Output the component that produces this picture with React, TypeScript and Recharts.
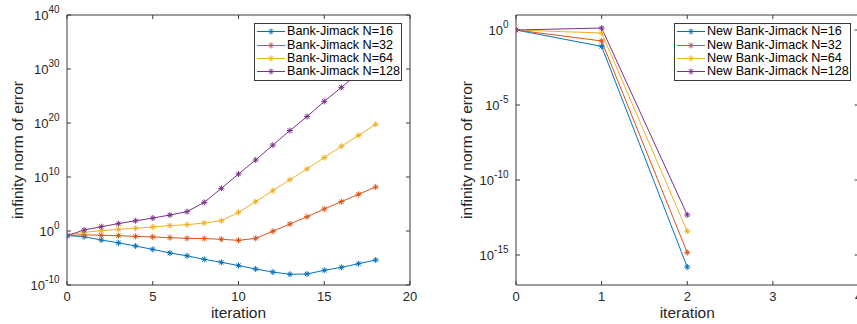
import React from 'react';
import { LineChart, Line, XAxis, YAxis, Legend } from 'recharts';

const COLORS = ['#0072BD', '#D95319', '#EDB120', '#7E2F8E'];
const FONT = '"Liberation Sans", Arial, Helvetica, sans-serif';
const AXIS_COLOR = '#3a3a3a';
const TEXT_COLOR = '#262626';

// Left panel: Bank-Jimack (values are log10 of the error)
const leftIterations = [0, 1, 2, 3, 4, 5, 6, 7, 8, 9, 10, 11, 12, 13, 14, 15, 16, 17, 18];
const leftN16 = [-0.86, -1.05, -1.67, -2.2, -2.78, -3.4, -4.07, -4.6, -5.25, -5.8, -6.4, -7.04, -7.6, -8.02, -7.96, -7.28, -6.73, -6.05, -5.37];
const leftN32 = [-0.86, -0.7, -0.8, -0.86, -1.0, -1.1, -1.23, -1.36, -1.4, -1.54, -1.73, -1.36, -0.06, 1.3, 2.65, 4.07, 5.43, 6.8, 8.15];
const leftN64 = [-0.86, -0.25, 0.06, 0.3, 0.5, 0.74, 1.0, 1.17, 1.48, 1.9, 3.46, 5.43, 7.47, 9.5, 11.5, 13.6, 15.7, 17.7, 19.75];
const leftN128 = [-0.86, 0.19, 0.8, 1.36, 1.9, 2.4, 2.96, 3.58, 5.3, 7.9, 10.55, 13.15, 15.9, 18.6, 21.2, 24.0, 26.6, 29.3, 32.0];
const leftNames = ['Bank-Jimack N=16', 'Bank-Jimack N=32', 'Bank-Jimack N=64', 'Bank-Jimack N=128'];
const leftXTicks = [0, 5, 10, 15, 20];
const leftYTicks = [1e-10, 1, 1e10, 1e20, 1e30, 1e40];

// Right panel: New Bank-Jimack (log10 of the error)
const rightIterations = [0, 1, 2];
const rightN16 = [0, -1.09, -15.8];
const rightN32 = [0, -0.73, -14.84];
const rightN64 = [0, -0.2, -13.42];
const rightN128 = [0, 0.13, -12.33];
const rightNames = ['New Bank-Jimack N=16', 'New Bank-Jimack N=32', 'New Bank-Jimack N=64', 'New Bank-Jimack N=128'];
const rightXTicks = [0, 1, 2, 3, 4];
const rightYTicks = [1e-15, 1e-10, 1e-5, 1];

const KEYS = ['n16', 'n32', 'n64', 'n128'];

const leftData = leftIterations.map((it, i) => ({
  it,
  n16: Math.pow(10, leftN16[i]),
  n32: Math.pow(10, leftN32[i]),
  n64: Math.pow(10, leftN64[i]),
  n128: Math.pow(10, leftN128[i]),
}));

const rightData = rightIterations.map((it, i) => ({
  it,
  n16: Math.pow(10, rightN16[i]),
  n32: Math.pow(10, rightN32[i]),
  n64: Math.pow(10, rightN64[i]),
  n128: Math.pow(10, rightN128[i]),
}));

const Asterisk = ({ cx, cy, color, r = 3 }: any) => {
  const d = r * 0.72;
  return (
    <g stroke={color} strokeWidth={1} fill="none">
      <line x1={cx - r} y1={cy} x2={cx + r} y2={cy} />
      <line x1={cx} y1={cy - r} x2={cx} y2={cy + r} />
      <line x1={cx - d} y1={cy - d} x2={cx + d} y2={cy + d} />
      <line x1={cx - d} y1={cy + d} x2={cx + d} y2={cy - d} />
    </g>
  );
};

const makeDot = (color: string) => (props: any) => {
  const { cx, cy, index } = props;
  if (cx == null || cy == null) return <g key={`d${index}`} />;
  return <Asterisk key={`d${index}`} cx={cx} cy={cy} color={color} />;
};

const PowTick = (props: any) => {
  const { x, y, payload } = props;
  const e = Math.round(Math.log10(payload.value));
  return (
    <text x={x} y={y} dy={5} textAnchor="end" fontFamily={FONT} fontSize={13} fill={TEXT_COLOR}>
      <tspan>10</tspan>
      <tspan dy={-7} fontSize={10}>{e}</tspan>
    </text>
  );
};

const NumTick = (props: any) => {
  const { x, y, payload } = props;
  return (
    <text x={x} y={y} dy="0.71em" textAnchor="middle" fontFamily={FONT} fontSize={13} fill={TEXT_COLOR}>
      {payload.value}
    </text>
  );
};

const EmptyTick = () => <g />;

const LegendBox = ({ names }: { names: string[] }) => (
  <div
    style={{
      background: '#fff',
      border: `1px solid ${AXIS_COLOR}`,
      boxSizing: 'border-box',
      width: '100%',
      height: '100%',
      padding: '1px 0 0 1px',
      fontFamily: FONT,
      fontSize: 12.6,
      color: '#000',
    }}
  >
    {names.map((n, i) => (
      <div key={n} style={{ display: 'flex', alignItems: 'center', height: 13.4, whiteSpace: 'nowrap' }}>
        <svg width={30} height={13} style={{ display: 'block', flex: 'none' }}>
          <line x1={1} y1={6.5} x2={29} y2={6.5} stroke={COLORS[i]} strokeWidth={1} />
          <Asterisk cx={15} cy={6.5} color={COLORS[i]} />
        </svg>
        <span style={{ marginLeft: 1, lineHeight: '13px' }}>{n}</span>
      </div>
    ))}
  </div>
);

const axisLine = { stroke: AXIS_COLOR, strokeWidth: 1 };
const tickLine = { stroke: AXIS_COLOR, strokeWidth: 1 };

function Panel(props: any) {
  const {
    data, names, xDomain, xTicks, yDomain, yTicks, width, margin, yLabelOffset, legendStyle,
  } = props;
  return (
    <LineChart width={width} height={324} data={data} margin={margin}>
      <XAxis
        dataKey="it"
        type="number"
        domain={xDomain}
        ticks={xTicks}
        allowDataOverflow
        height={39}
        axisLine={axisLine}
        tickLine={tickLine}
        tickSize={-4}
        tickMargin={10.7}
        tick={NumTick}
        interval={0}
        label={{
          value: 'iteration',
          position: 'insideBottom',
          offset: 6,
          style: { fontFamily: FONT, fontSize: 15.5, fill: TEXT_COLOR },
        }}
      />
      <XAxis
        xAxisId="top"
        orientation="top"
        dataKey="it"
        type="number"
        domain={xDomain}
        ticks={xTicks}
        allowDataOverflow
        height={1}
        axisLine={axisLine}
        tickLine={tickLine}
        tickSize={-4}
        tick={EmptyTick}
        interval={0}
      />
      <YAxis
        scale="log"
        type="number"
        domain={yDomain}
        ticks={yTicks}
        allowDataOverflow
        width={props.yAxisWidth}
        axisLine={axisLine}
        tickLine={tickLine}
        tickSize={-4}
        tickMargin={11.5}
        tick={PowTick}
        interval={0}
        label={{
          value: 'infinity norm of error',
          angle: -90,
          position: 'insideLeft',
          offset: yLabelOffset,
          style: { fontFamily: FONT, fontSize: 15.5, fill: TEXT_COLOR, textAnchor: 'middle' },
        }}
      />
      <YAxis
        yAxisId="right"
        orientation="right"
        scale="log"
        type="number"
        domain={yDomain}
        ticks={yTicks}
        allowDataOverflow
        width={1}
        axisLine={axisLine}
        tickLine={tickLine}
        tickSize={-4}
        tick={EmptyTick}
        interval={0}
      />
      {KEYS.map((k, i) => (
        <Line
          key={k}
          dataKey={k}
          name={names[i]}
          stroke={COLORS[i]}
          strokeWidth={1}
          dot={makeDot(COLORS[i])}
          activeDot={false}
          isAnimationActive={false}
          type="linear"
        />
      ))}
      <Legend
        layout="horizontal"
        verticalAlign="middle"
        align="center"
        wrapperStyle={legendStyle}
        content={() => <LegendBox names={names} />}
      />
    </LineChart>
  );
}

export default function App() {
  return (
    <div
      style={{
        position: 'absolute',
        left: 0,
        top: 0,
        width: 857,
        height: 324,
        overflow: 'hidden',
        background: '#fff',
      }}
    >
      <div style={{ position: 'absolute', left: 0, top: 0 }}>
        <Panel
          data={leftData}
          names={leftNames}
          xDomain={[0, 20]}
          xTicks={leftXTicks}
          yDomain={[1e-10, 1e40]}
          yTicks={leftYTicks}
          width={430}
          yAxisWidth={67}
          margin={{ top: 14, right: 19, bottom: 0, left: 0 }}
          yLabelOffset={17}
          legendStyle={{ left: 254, top: 23, width: 148, height: 58, margin: 0 }}
        />
      </div>
      <div style={{ position: 'absolute', left: 430, top: 0 }}>
        <Panel
          data={rightData}
          names={rightNames}
          xDomain={[0, 4]}
          xTicks={rightXTicks}
          yDomain={[1e-17, 10]}
          yTicks={rightYTicks}
          width={440}
          yAxisWidth={86}
          margin={{ top: 14, right: 10.5, bottom: 0, left: 0 }}
          yLabelOffset={36}
          legendStyle={{ left: 244, top: 23, width: 177, height: 58, margin: 0 }}
        />
      </div>
    </div>
  );
}
